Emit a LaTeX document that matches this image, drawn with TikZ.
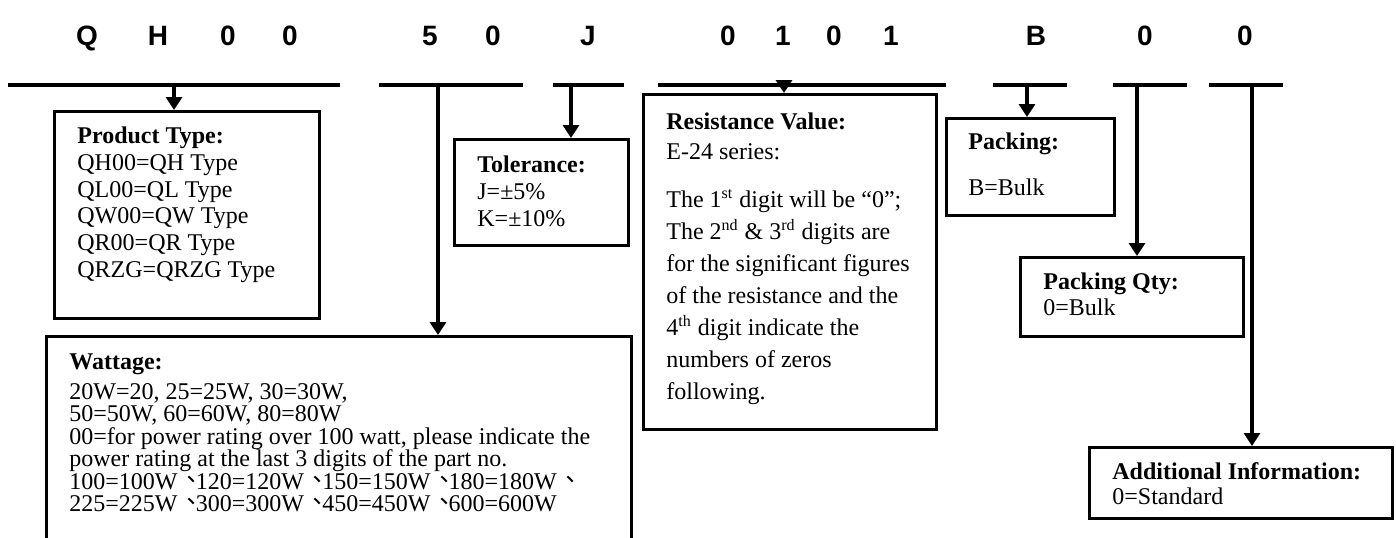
\documentclass[tikz,border=0pt]{standalone}
\usepackage{fontspec}
\setmainfont{Liberation Serif}
\setsansfont{Liberation Sans}
\newfontfamily\cjk{Noto Sans CJK TC}
\usetikzlibrary{positioning, arrows.meta}
\newcommand{\hd}[1]{\rule{0pt}{10pt}\textbf{#1}}
\newcommand{\dun}{\makebox[0.76em][l]{\hspace{0.08em}\raisebox{0.05em}{\smash{\cjk 、}}}}

\begin{document}
\begin{tikzpicture}[x=0.5pt, y=-0.5pt,
            digit/.style={font=\sffamily\bfseries\fontsize{14}{16}\selectfont, inner sep=0pt, anchor=base},
            bar/.style={line width=2.2pt},
            box/.style={draw, rectangle, line width=1.6pt, anchor=north west, inner sep=0pt},
            txt/.style={inner sep=0pt, align=left, font=\fontsize{12}{13.5}\selectfont},
            arr/.style={line width=1.6pt, -{Triangle[length=6.5pt, width=8pt]}}]
            \useasboundingbox (0,0) rectangle (1396,537);

            \node[digit] (q) at (87, 45) {Q};
            \node[digit] (h) at (158, 45) {H};
            \node[digit] (z1) at (228, 45) {0};
            \node[digit] (z2) at (290, 45) {0};
            \node[digit] (w1) at (430, 45) {5};
            \node[digit] (w2) at (493, 45) {0};
            \node[digit] (j) at (588, 45) {J};
            \node[digit] (r1) at (728, 45) {0};
            \node[digit] (r2) at (783, 45) {1};
            \node[digit] (r3) at (834, 45) {0};
            \node[digit] (r4) at (891, 45) {1};
            \node[digit] (b) at (1036, 45) {B};
            \node[digit] (p1) at (1145, 45) {0};
            \node[digit] (p2) at (1245, 45) {0};

            \coordinate (bar1a) at (8, 85);    \coordinate (bar1b) at (340, 85);
            \coordinate (bar2a) at (379, 85);  \coordinate (bar2b) at (523, 85);
            \coordinate (bar3a) at (553, 85);  \coordinate (bar3b) at (624, 85);
            \coordinate (bar4a) at (658, 85);  \coordinate (bar4b) at (946, 85);
            \coordinate (bar5a) at (993, 85);  \coordinate (bar5b) at (1067, 85);
            \coordinate (bar6a) at (1113, 85); \coordinate (bar6b) at (1187, 85);
            \coordinate (bar7a) at (1209, 85); \coordinate (bar7b) at (1283, 85);

            \draw[bar] (bar1a) -- (bar1b);
            \draw[bar] (bar2a) -- (bar2b);
            \draw[bar] (bar3a) -- (bar3b);
            \draw[bar] (bar4a) -- (bar4b);
            \draw[bar] (bar5a) -- (bar5b);
            \draw[bar] (bar6a) -- (bar6b);
            \draw[bar] (bar7a) -- (bar7b);

            \node[box, minimum width=132.5pt, minimum height=103.5pt] (ptype) at (53, 110) {};
            \node[box, minimum width=87pt, minimum height=53pt] (tol) at (453, 138) {};
            \node[box, minimum width=146.5pt, minimum height=167.5pt] (res) at (642, 93) {};
            \node[box, minimum width=84pt, minimum height=48.5pt] (pack) at (945, 117) {};
            \node[box, minimum width=111.5pt, minimum height=39.5pt] (qty) at (1019, 256) {};
            \node[box, minimum width=151.5pt, minimum height=35.5pt] (add) at (1088, 446) {};
            \node[box, minimum width=292.5pt, minimum height=112.5pt] (watt) at (45, 335) {};

            \node[txt, font=\fontsize{12}{13.4}\selectfont, below right=6.5pt and 12pt of ptype.north west] (ptypetxt)
                {\hd{Product Type:}\\QH00=QH Type\\QL00=QL Type\\QW00=QW Type\\QR00=QR Type\\QRZG=QRZG Type};
            \node[txt, below right=7pt and 12pt of tol.north west] (toltxt)
                {\hd{Tolerance:}\\J=±5\%\\K=±10\%};
            \node[txt, font=\fontsize{12}{16}\selectfont, below right=8pt and 12pt of res.north west] (restxt)
                {\hd{Resistance Value:}\\[-1pt]E-24 series:\\[8pt]The 1\textsuperscript{st} digit will be “0”;\\The 2\textsuperscript{nd} \& 3\textsuperscript{rd} digits are\\for the significant figures\\of the resistance and the\\4\textsuperscript{th} digit indicate the\\numbers of zeros\\following.};
            \node[txt, below right=6pt and 11.5pt of pack.north west] (packtxt)
                {\hd{Packing:}\\[9.5pt]B=Bulk};
            \node[txt, font=\fontsize{12}{13}\selectfont, below right=6.5pt and 12pt of qty.north west] (qtytxt)
                {\hd{Packing Qty:}\\0=Bulk};
            \node[txt, font=\fontsize{12}{12.5}\selectfont, below right=6.5pt and 12pt of add.north west] (addtxt)
                {\hd{Additional Information:}\\0=Standard};
            \node[txt, font=\fontsize{12}{11.25}\selectfont, below right=7pt and 12pt of watt.north west] (watttxt)
                {\hd{Wattage:}\\[3.75pt]20W=20, 25=25W, 30=30W,\\50=50W, 60=60W, 80=80W\\00=for power rating over 100 watt, please indicate the\\power rating at the last 3 digits of the part no.\\100=100W\dun 120=120W\dun 150=150W\dun 180=180W\dun\\225=225W\dun 300=300W\dun 450=450W\dun 600=600W};

            \coordinate (s1) at (174, 85);
            \coordinate (s2) at (438, 85);
            \coordinate (s3) at (571, 85);
            \coordinate (s4) at (784, 85);
            \coordinate (s5) at (1027, 85);
            \coordinate (s6) at (1137, 85);
            \coordinate (s7) at (1252, 85);

            \draw[arr] (s1) -- (s1 |- ptype.north);
            \draw[arr] (s2) -- (s2 |- watt.north);
            \draw[arr] (s3) -- (s3 |- tol.north);
            \draw[arr] (s4) -- (s4 |- res.north);
            \draw[arr] (s5) -- (s5 |- pack.north);
            \draw[arr] (s6) -- (s6 |- qty.north);
            \draw[arr] (s7) -- (s7 |- add.north);
        \end{tikzpicture}
\end{document}
